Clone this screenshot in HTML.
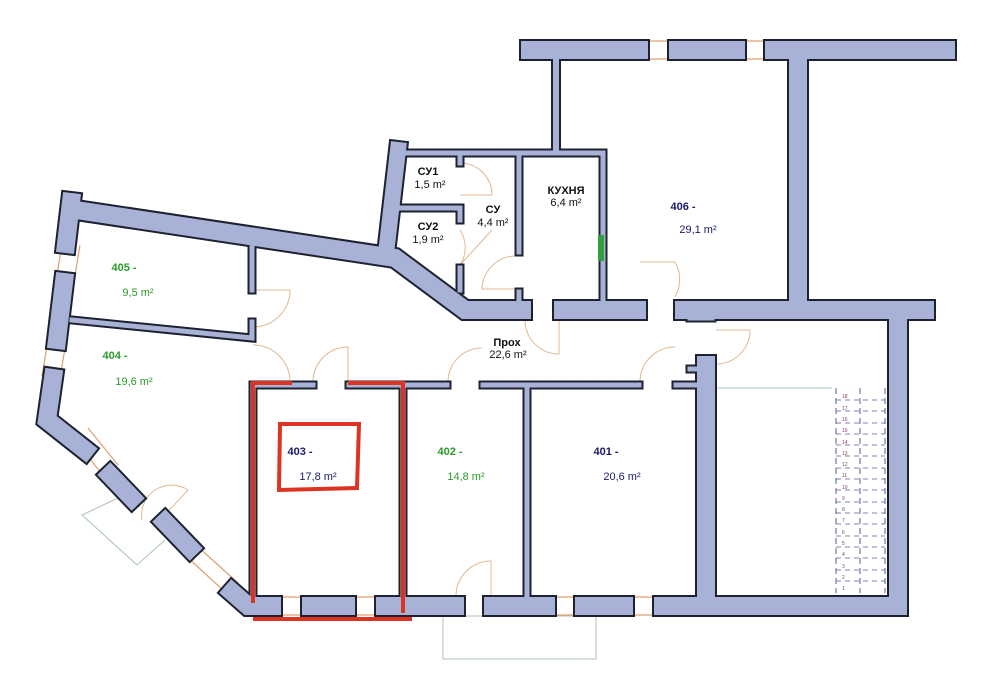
<!DOCTYPE html>
<html><head><meta charset="utf-8"><style>
html,body{margin:0;padding:0;background:#fff;}
svg{display:block}
text{font-family:"Liberation Sans","Noto Sans CJK SC",sans-serif;}
</style></head><body>
<svg width="991" height="699" viewBox="0 0 991 699" xmlns="http://www.w3.org/2000/svg">
<g fill="none" stroke="#a9c4b0" stroke-width="1">
<rect x="443" y="616" width="153" height="43"/>
<polyline points="135,490 82,515 137,565 165,540"/>
<line x1="716" y1="388" x2="832" y2="388"/>
</g>
<g stroke="#e0a070" stroke-width="1.2" fill="none">
<line x1="640" y1="41" x2="677" y2="41"/><line x1="640" y1="59" x2="677" y2="59"/>
<line x1="737" y1="41" x2="773" y2="41"/><line x1="737" y1="59" x2="773" y2="59"/>
<line x1="273" y1="597" x2="310" y2="597"/><line x1="273" y1="615" x2="310" y2="615"/>
<line x1="347" y1="597" x2="384" y2="597"/><line x1="347" y1="615" x2="384" y2="615"/>
<line x1="547" y1="597" x2="583" y2="597"/><line x1="547" y1="615" x2="583" y2="615"/>
<line x1="625" y1="597" x2="662" y2="597"/><line x1="625" y1="615" x2="662" y2="615"/>
<line x1="62" y1="245" x2="56" y2="280"/><line x1="80" y1="245" x2="74" y2="282"/>
<line x1="48" y1="340" x2="42" y2="376"/><line x1="66" y1="342" x2="60" y2="378"/>
<line x1="75" y1="440" x2="105" y2="478"/><line x1="88" y1="428" x2="118" y2="465"/>
<line x1="185" y1="555" x2="225" y2="592"/><line x1="196" y1="545" x2="238" y2="583"/>
</g>
<g stroke="#e0b890" stroke-width="1" fill="none">
<path d="M253,290 L290,290 A37,37 0 0 1 253,327"/>
<path d="M253,345 A37,37 0 0 1 290,382"/>
<path d="M313,382 A35,35 0 0 1 348,347 L348,382"/>
<path d="M448,382 A34,34 0 0 1 482,348"/>
<path d="M640,382 A35,35 0 0 1 675,347"/>
<path d="M675,262 A35,35 0 0 1 675,297 M640,262 L675,262"/>
<path d="M716,330 L750,330 A34,34 0 0 1 716,364"/>
<path d="M456,596 A35,35 0 0 1 491,561 L491,596"/>
<path d="M559,320 L559,354 A34,34 0 0 1 525,320"/>
<path d="M460,163 A32,32 0 0 1 492,195 L460,195"/>
<path d="M460,230 A32,32 0 0 1 460,265 L492,230"/>
<path d="M515,256 A34,34 0 0 0 482,289 L515,289"/>
<path d="M142,520 A30,30 0 0 1 188,490 L160,520"/>
</g>
<g fill="none" stroke="#1e2230" stroke-linejoin="miter" stroke-linecap="square">
<g stroke-width="22">
<path d="M530,50 L639,50 M678,50 L736,50 M774,50 L946,50"/>
<path d="M798,60 L798,300"/>
<path d="M76,210 L395,258 L465,310 L522,310"/>
<path d="M684,310 L925,310"/>
<path d="M563,310 L637,310"/>
<path d="M898,320 L898,606 L663,606"/>
<path d="M706,365 L706,596"/>
<path d="M624,606 L584,606 M546,606 L493,606 M455,606 L385,606 M346,606 L311,606 M272,606 L248,606 L232,592"/>
<path d="M71,202 L66,244 M64,282 L57,340 M53,378 L47,420 L85,450"/>
<path d="M110,475 L132,498 M165,522 L190,548"/>
</g>
<g stroke-width="10"><path d="M556,60 L556,150"/></g>
<g stroke-width="20"><path d="M398,150 L387,245"/></g>
<g stroke-width="9">
<path d="M398,153 L603,153 L603,300"/>
<path d="M519,157 L519,252 M519,292 L519,300"/>
<path d="M395,208 L460,208 L460,220 M460,157 L460,163 M460,268 L460,290"/>
<path d="M72,320 L252,338 L252,322 M252,248 L252,290"/>
<path d="M253,385 L313,385 M349,385 L447,385 M483,385 L639,385 M676,385 L695,385"/>
<path d="M527,389 L527,596"/>
<path d="M253,385 L253,596 M403,385 L403,596"/>
<path d="M690,369 L706,369"/>
<path d="M690,318 L712,318"/>
</g>
</g>
<g fill="none" stroke="#a8b2d6" stroke-linejoin="miter" stroke-linecap="square">
<g stroke-width="18">
<path d="M530,50 L639,50 M678,50 L736,50 M774,50 L946,50"/>
<path d="M798,60 L798,300"/>
<path d="M76,210 L395,258 L465,310 L522,310"/>
<path d="M684,310 L925,310"/>
<path d="M563,310 L637,310"/>
<path d="M898,320 L898,606 L663,606"/>
<path d="M706,365 L706,596"/>
<path d="M624,606 L584,606 M546,606 L493,606 M455,606 L385,606 M346,606 L311,606 M272,606 L248,606 L232,592"/>
<path d="M71,202 L66,244 M64,282 L57,340 M53,378 L47,420 L85,450"/>
<path d="M110,475 L132,498 M165,522 L190,548"/>
</g>
<g stroke-width="6"><path d="M556,60 L556,150"/></g>
<g stroke-width="16"><path d="M398,150 L387,245"/></g>
<g stroke-width="5">
<path d="M398,153 L603,153 L603,300"/>
<path d="M519,157 L519,252 M519,292 L519,300"/>
<path d="M395,208 L460,208 L460,220 M460,157 L460,163 M460,268 L460,290"/>
<path d="M72,320 L252,338 L252,322 M252,248 L252,290"/>
<path d="M253,385 L313,385 M349,385 L447,385 M483,385 L639,385 M676,385 L695,385"/>
<path d="M527,389 L527,596"/>
<path d="M253,385 L253,596 M403,385 L403,596"/>
<path d="M690,369 L706,369"/>
<path d="M690,318 L712,318"/>
</g>
</g>
<rect x="598" y="235" width="6" height="26" fill="#2ea040"/>
<g stroke="#5a5aa0" stroke-width="1" fill="none" stroke-dasharray="6,4">
<line x1="836" y1="388" x2="836" y2="593"/>
<line x1="860" y1="388" x2="860" y2="593"/>
<line x1="885" y1="388" x2="885" y2="593"/>
</g>
<g stroke="#5a5aa0" stroke-width="0.7" stroke-dasharray="5,4">
<line x1="836" y1="400" x2="885" y2="400"/><line x1="836" y1="411" x2="885" y2="411"/>
<line x1="836" y1="423" x2="885" y2="423"/><line x1="836" y1="434" x2="885" y2="434"/>
<line x1="836" y1="445" x2="885" y2="445"/><line x1="836" y1="456" x2="885" y2="456"/>
<line x1="836" y1="468" x2="885" y2="468"/><line x1="836" y1="479" x2="885" y2="479"/>
<line x1="836" y1="490" x2="885" y2="490"/><line x1="836" y1="502" x2="885" y2="502"/>
<line x1="836" y1="513" x2="885" y2="513"/><line x1="836" y1="524" x2="885" y2="524"/>
<line x1="836" y1="536" x2="885" y2="536"/><line x1="836" y1="547" x2="885" y2="547"/>
<line x1="836" y1="558" x2="885" y2="558"/><line x1="836" y1="570" x2="885" y2="570"/>
<line x1="836" y1="581" x2="885" y2="581"/>
</g>
<g font-size="5" fill="#804060">
<text x="842" y="398">18</text><text x="842" y="410">17</text><text x="842" y="421">16</text><text x="842" y="432">15</text>
<text x="842" y="444">14</text><text x="842" y="455">13</text><text x="842" y="466">12</text><text x="842" y="477">11</text>
<text x="842" y="489">10</text><text x="842" y="500">9</text><text x="842" y="511">8</text><text x="842" y="522">7</text>
<text x="842" y="534">6</text><text x="842" y="545">5</text><text x="842" y="556">4</text><text x="842" y="568">3</text>
<text x="842" y="579">2</text><text x="842" y="590">1</text>
</g>
<g stroke="#dd3322" fill="none" stroke-width="4">
<path d="M253,603 L253,383 L292,383 M348,383 L403,383 L403,613"/>
<line x1="253" y1="619" x2="412" y2="619"/>
<path d="M280,424 L359,424 L357,488 L279,490 Z"/>
</g>
<g font-size="11" text-anchor="middle">
<text x="428" y="175" font-weight="bold" fill="#111">СУ1</text>
<text x="430" y="188" fill="#111">1,5 m²</text>
<text x="493" y="213" font-weight="bold" fill="#111">СУ</text>
<text x="493" y="226" fill="#111">4,4 m²</text>
<text x="428" y="230" font-weight="bold" fill="#111">СУ2</text>
<text x="428" y="243" fill="#111">1,9 m²</text>
<text x="566" y="194" font-weight="bold" fill="#111">КУХНЯ</text>
<text x="566" y="206" fill="#111">6,4 m²</text>
<text x="507" y="346" font-weight="bold" fill="#111">Прох</text>
<text x="508" y="358" fill="#111">22,6 m²</text>
<text x="683" y="210" font-weight="bold" fill="#1a1a6a">406 -</text>
<text x="698" y="233" fill="#1a1a6a">29,1 m²</text>
<text x="124" y="271" font-weight="bold" fill="#2a9a2a">405 -</text>
<text x="138" y="296" fill="#2a9a2a">9,5 m²</text>
<text x="115" y="359" font-weight="bold" fill="#2a9a2a">404 -</text>
<text x="134" y="385" fill="#2a9a2a">19,6 m²</text>
<text x="300" y="455" font-weight="bold" fill="#1a1a6a">403 -</text>
<text x="318" y="480" fill="#1a1a6a">17,8 m²</text>
<text x="450" y="455" font-weight="bold" fill="#2a9a2a">402 -</text>
<text x="466" y="480" fill="#2a9a2a">14,8 m²</text>
<text x="606" y="455" font-weight="bold" fill="#1a1a6a">401 -</text>
<text x="622" y="480" fill="#1a1a6a">20,6 m²</text>
</g>
</svg>
</body></html>
